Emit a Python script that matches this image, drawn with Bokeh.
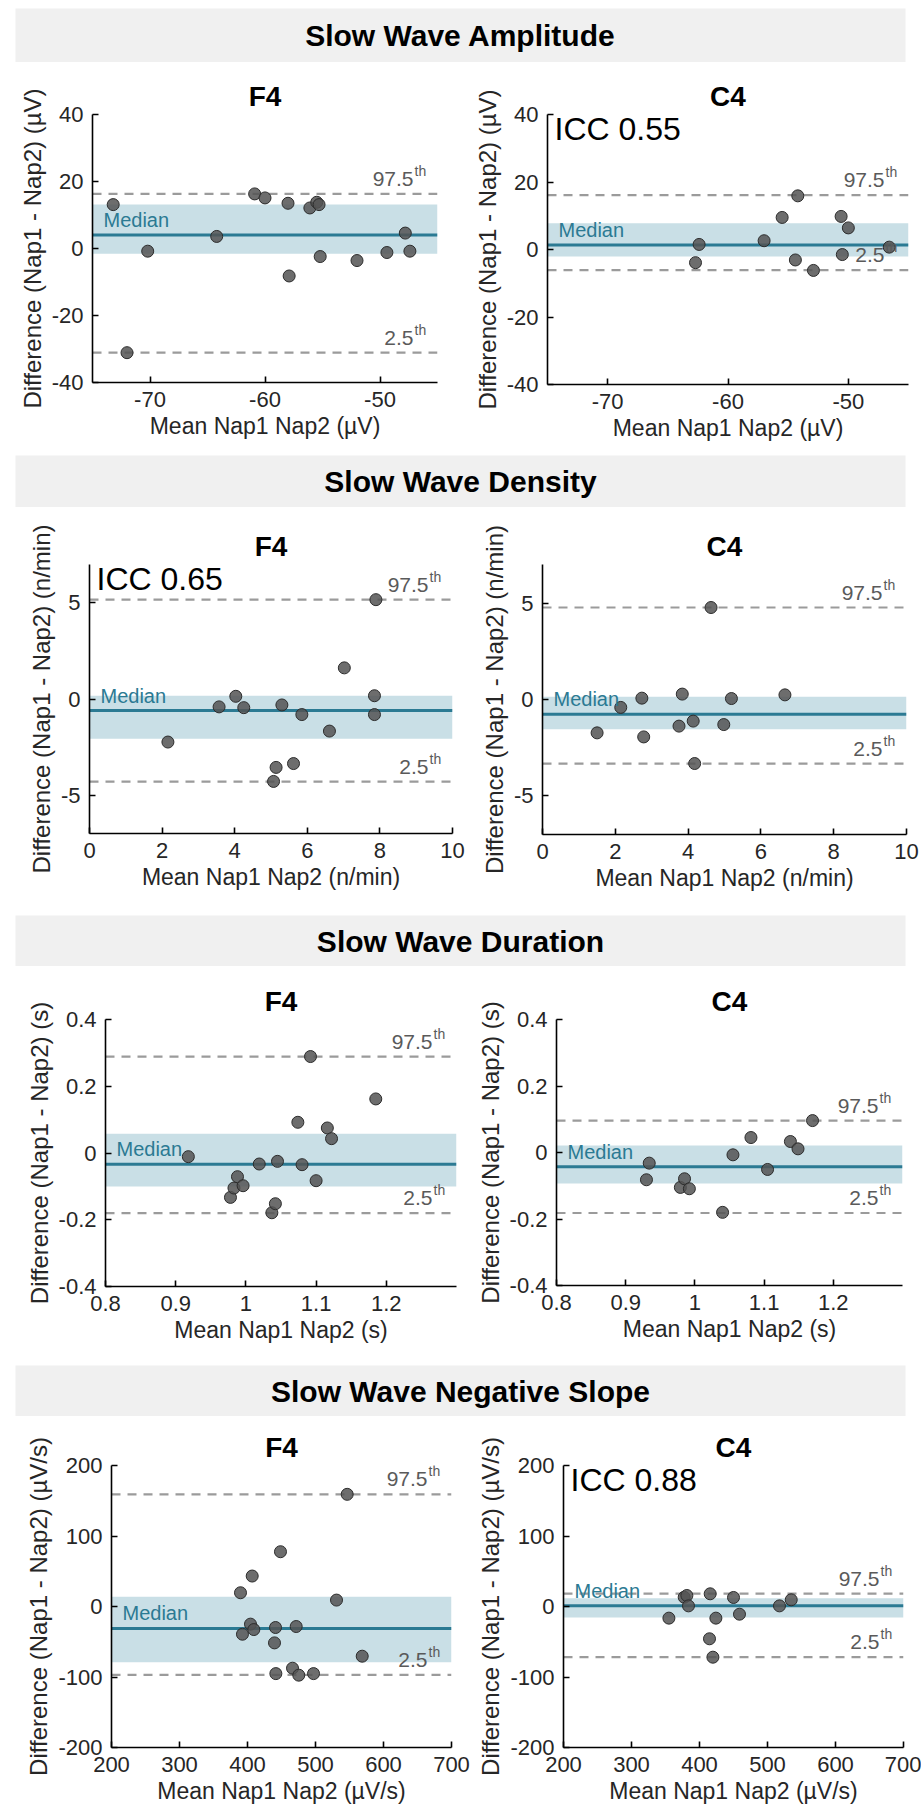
from bokeh.plotting import figure
from bokeh.layouts import column, row
from bokeh.models import Span, BoxAnnotation, Label, FixedTicker, CustomJSTickFormatter, Range1d
from bokeh.embed import file_html
from bokeh.resources import INLINE

FONT = "Liberation Sans"

# ---------------- data ----------------
section_titles = ["Slow Wave Amplitude", "Slow Wave Density", "Slow Wave Duration", "Slow Wave Negative Slope"]
channel_titles = ["F4", "C4"]

# Amplitude
amp_f4_mean = [-73.2, -72.0, -70.2, -64.2, -60.9, -60.0, -58.0, -57.9, -56.1, -55.5, -55.3, -55.2, -52.0, -49.4, -47.8, -47.4]
amp_f4_diff = [13.1, -31.1, -0.8, 3.6, 16.3, 15.1, 13.5, -8.2, 12.1, 13.8, 13.1, -2.4, -3.6, -1.2, 4.6, -0.8]
amp_f4_stats = {"p975": 16.3, "p25": -31.1, "median": 4.0, "band_lo": -1.6, "band_hi": 13.1}
amp_c4_mean = [-62.7, -62.4, -57.0, -55.5, -54.4, -54.2, -52.9, -50.6, -50.0, -50.5, -46.6]
amp_c4_diff = [-3.9, 1.5, 2.6, 9.5, -3.1, 15.9, -6.2, 9.8, 6.4, -1.5, 0.7]
amp_c4_stats = {"p975": 16.1, "p25": -6.1, "median": 1.3, "band_lo": -2.1, "band_hi": 7.8}

# Density
den_f4_mean = [2.16, 3.57, 4.03, 4.25, 5.07, 5.14, 5.30, 5.62, 5.85, 6.61, 7.02, 7.85, 7.85, 7.89]
den_f4_diff = [-2.24, -0.41, 0.14, -0.45, -4.29, -3.56, -0.31, -3.36, -0.81, -1.67, 1.62, 0.17, -0.81, 5.17]
den_f4_stats = {"p975": 5.17, "p25": -4.30, "median": -0.60, "band_lo": -2.07, "band_hi": 0.17}
den_c4_mean = [1.50, 2.15, 2.73, 2.78, 3.75, 3.84, 4.14, 4.18, 4.63, 4.98, 5.19, 6.66]
den_c4_diff = [-1.73, -0.41, 0.07, -1.94, -1.38, 0.28, -1.12, -3.32, 4.77, -1.30, 0.05, 0.24]
den_c4_stats = {"p975": 4.77, "p25": -3.32, "median": -0.76, "band_lo": -1.54, "band_hi": 0.14}

# Duration
dur_f4_mean = [0.918, 0.978, 0.983, 0.988, 0.996, 1.019, 1.037, 1.042, 1.045, 1.074, 1.080, 1.092, 1.100, 1.116, 1.122, 1.185]
dur_f4_diff = [-0.011, -0.133, -0.105, -0.071, -0.098, -0.033, -0.179, -0.152, -0.025, 0.092, -0.035, 0.289, -0.083, 0.075, 0.043, 0.162]
dur_f4_stats = {"p975": 0.289, "p25": -0.180, "median": -0.034, "band_lo": -0.100, "band_hi": 0.058}
dur_c4_mean = [0.930, 0.934, 0.979, 0.985, 0.992, 1.040, 1.055, 1.081, 1.105, 1.138, 1.149, 1.170]
dur_c4_diff = [-0.082, -0.032, -0.105, -0.079, -0.109, -0.180, -0.007, 0.045, -0.051, 0.033, 0.011, 0.096]
dur_c4_stats = {"p975": 0.096, "p25": -0.182, "median": -0.043, "band_lo": -0.093, "band_hi": 0.021}

# Negative slope
slo_f4_mean = [389.7, 392.6, 404.4, 406.9, 409.3, 439.7, 441.2, 441.7, 448.5, 466.2, 471.6, 475.4, 497.1, 530.9, 546.6, 568.7]
slo_f4_diff = [19.5, -39.3, -25.0, 43.2, -32.7, -51.6, -29.8, -95.2, 77.7, -87.5, -28.4, -97.4, -95.2, 9.1, 159.1, -70.5]
slo_f4_stats = {"p975": 159.0, "p25": -97.0, "median": -31.2, "band_lo": -79.0, "band_hi": 13.8}
slo_c4_mean = [355.0, 377.5, 381.4, 383.8, 414.7, 415.7, 419.7, 424.1, 450.0, 458.8, 517.6, 534.9]
slo_c4_diff = [-16.5, 13.2, 15.6, 0.9, -45.8, 18.0, -71.9, -16.5, 12.8, -10.9, 0.9, 9.5]
slo_c4_stats = {"p975": 18.4, "p25": -71.9, "median": 0.9, "band_lo": -15.6, "band_hi": 11.8}

# axes ranges / ticks / labels
amp_xrange, amp_yrange = (-75, -45), (-40, 40)
amp_xticks, amp_yticks = [-70, -60, -50], [-40, -20, 0, 20, 40]
den_xrange, den_yrange = (0, 10), (-7, 7)
den_xticks, den_yticks = [0, 2, 4, 6, 8, 10], [-5, 0, 5]
dur_xrange, dur_yrange = (0.8, 1.3), (-0.4, 0.4)
dur_xticks, dur_yticks = [0.8, 0.9, 1.0, 1.1, 1.2], [-0.4, -0.2, 0, 0.2, 0.4]
slo_xrange, slo_yrange = (200, 700), (-200, 200)
slo_xticks, slo_yticks = [200, 300, 400, 500, 600, 700], [-200, -100, 0, 100, 200]

amp_xlabel, amp_ylabel = "Mean Nap1 Nap2 (µV)", "Difference (Nap1 - Nap2) (µV)"
den_xlabel, den_ylabel = "Mean Nap1 Nap2 (n/min)", "Difference (Nap1 - Nap2) (n/min)"
dur_xlabel, dur_ylabel = "Mean Nap1 Nap2 (s)", "Difference (Nap1 - Nap2) (s)"
slo_xlabel, slo_ylabel = "Mean Nap1 Nap2 (µV/s)", "Difference (Nap1 - Nap2) (µV/s)"

icc_texts = {("amp", "C4"): "ICC 0.55", ("den", "F4"): "ICC 0.65", ("slo", "C4"): "ICC 0.88"}

# ---------------- styling ----------------
BAND = "#c9dfe6"
MEDIAN = "#2b7a93"
DASH = "#9b9b9b"
PT_FILL = "#545454"
PT_LINE = "#2c2c2c"
TXT = "#262626"
GRAYTXT = "#5a5a5a"

# geometry: (left border, frame w, right border, top border, frame h, bottom border)
geoms = {
    ("amp", "F4"): (92, 345, 33, 52, 268, 73),
    ("amp", "C4"): (73, 361, 17, 50, 270, 73),
    ("den", "F4"): (89, 363, 18, 57, 269, 82),
    ("den", "C4"): (72, 364, 15, 57, 270, 81),
    ("dur", "F4"): (105, 351, 14, 52, 267, 80),
    ("dur", "C4"): (86, 346, 19, 53, 266, 80),
    ("slo", "F4"): (111, 340, 19, 49, 282, 67),
    ("slo", "C4"): (93, 340, 18, 48, 282, 68),
}
# header geometry: (left, width, right, top, height)
header_geoms = [(7, 890, 24, 8, 54), (15, 890, 16, 0, 52), (15, 890, 16, 0, 51), (15, 890, 16, 0, 51)]

fmt_code = "return String(Math.round(tick*1000)/1000);"


def make_header(text, g):
    l, w, r, t, h = g
    p = figure(frame_width=w, frame_height=h, min_border_left=l, min_border_right=r,
               min_border_top=t, min_border_bottom=0, x_range=Range1d(0, 1), y_range=Range1d(0, 1),
               toolbar_location=None, output_backend="svg",
               x_axis_location=None, y_axis_location=None)
    p.background_fill_color = "#f0f0f0"
    p.border_fill_color = "white"
    p.outline_line_color = None
    p.xgrid.visible = False
    p.ygrid.visible = False
    p.add_layout(Label(x=0.5, y=0.5, text=text, text_align="center", text_baseline="middle",
                       text_font=FONT, text_font_size="30px", text_font_style="bold", text_color="black"))
    return p


def make_panel(key, title, xs, ys, stats, xr, yr, xt, yt, xl, yl):
    fl, fw, fr, ft, fh, fb = geoms[key]
    x0, x1 = xr
    y0, y1 = yr
    dx = (x1 - x0) / fw
    dy = (y1 - y0) / fh
    p = figure(frame_width=fw, frame_height=fh, min_border_left=fl, min_border_right=fr,
               min_border_top=ft, min_border_bottom=fb, x_range=Range1d(x0, x1), y_range=Range1d(y0, y1),
               toolbar_location=None, output_backend="svg", title=title)
    p.title.align = "center"
    p.title.text_font = FONT
    p.title.text_font_size = "28px"
    p.title.text_font_style = "bold"
    p.title.text_color = "black"
    p.title.standoff = 5
    p.outline_line_color = None
    p.xgrid.visible = False
    p.ygrid.visible = False
    p.background_fill_color = "white"
    p.border_fill_color = "white"

    for ax, ticks, lab, lsize in ((p.xaxis[0], xt, xl, "23px"), (p.yaxis[0], yt, yl, "24px")):
        ax.ticker = FixedTicker(ticks=ticks)
        ax.formatter = CustomJSTickFormatter(code=fmt_code)
        ax.axis_label = lab
        ax.axis_line_color = "black"
        ax.axis_line_width = 1.6
        ax.major_tick_line_color = "black"
        ax.major_tick_line_width = 1.6
        ax.major_tick_in = 6
        ax.major_tick_out = 0
        ax.minor_tick_line_color = None
        ax.major_label_text_font = FONT
        ax.major_label_text_font_size = "22px"
        ax.major_label_text_color = TXT
        ax.major_label_standoff = 9
        ax.axis_label_text_font = FONT
        ax.axis_label_text_font_size = lsize
        ax.axis_label_text_font_style = "normal"
        ax.axis_label_text_color = TXT
        ax.axis_label_standoff = 3

    p.add_layout(BoxAnnotation(bottom=stats["band_lo"], top=stats["band_hi"], fill_color=BAND,
                               fill_alpha=1.0, line_color=None, level="underlay"))
    for loc in (stats["p975"], stats["p25"]):
        p.add_layout(Span(location=loc, dimension="width", line_color=DASH, line_width=2.2,
                          line_dash="9 7", level="underlay"))
    p.add_layout(Span(location=stats["median"], dimension="width", line_color=MEDIAN,
                      line_width=3, level="underlay"))

    p.scatter(x=xs, y=ys, size=12, marker="circle", fill_color=PT_FILL, fill_alpha=0.85,
              line_color=PT_LINE, line_width=1)

    # texts (y positions are the vertical centres of the glyphs)
    p.add_layout(Label(x=x0 + 11 * dx, y=stats["median"] + 15 * dy, text="Median",
                       text_font=FONT, text_font_size="20px", text_color=MEDIAN,
                       text_align="left", text_baseline="middle"))
    xr_txt = x1 - 24 * dx
    for loc, num in ((stats["p975"], "97.5"), (stats["p25"], "2.5")):
        p.add_layout(Label(x=xr_txt, y=loc + 15 * dy, text=num, text_font=FONT, text_font_size="21px",
                           text_color=GRAYTXT, text_align="right", text_baseline="middle"))
        p.add_layout(Label(x=xr_txt + 1 * dx, y=loc + 23 * dy, text="th", text_font=FONT,
                           text_font_size="14px", text_color=GRAYTXT, text_align="left",
                           text_baseline="middle"))
    if key in icc_texts:
        p.add_layout(Label(x=x0 + 7 * dx, y=y1 - 14 * dy, text=icc_texts[key], text_font=FONT,
                           text_font_size="32px", text_color="black", text_align="left",
                           text_baseline="middle"))
    return p


sections = [
    ("amp", amp_f4_mean, amp_f4_diff, amp_f4_stats, amp_c4_mean, amp_c4_diff, amp_c4_stats,
     amp_xrange, amp_yrange, amp_xticks, amp_yticks, amp_xlabel, amp_ylabel),
    ("den", den_f4_mean, den_f4_diff, den_f4_stats, den_c4_mean, den_c4_diff, den_c4_stats,
     den_xrange, den_yrange, den_xticks, den_yticks, den_xlabel, den_ylabel),
    ("dur", dur_f4_mean, dur_f4_diff, dur_f4_stats, dur_c4_mean, dur_c4_diff, dur_c4_stats,
     dur_xrange, dur_yrange, dur_xticks, dur_yticks, dur_xlabel, dur_ylabel),
    ("slo", slo_f4_mean, slo_f4_diff, slo_f4_stats, slo_c4_mean, slo_c4_diff, slo_c4_stats,
     slo_xrange, slo_yrange, slo_xticks, slo_yticks, slo_xlabel, slo_ylabel),
]

children = []
for i, (k, fx, fy, fs, cx, cy, cs, xr, yr, xt, yt, xl, yl) in enumerate(sections):
    children.append(make_header(section_titles[i], header_geoms[i]))
    left = make_panel((k, "F4"), channel_titles[0], fx, fy, fs, xr, yr, xt, yt, xl, yl)
    right = make_panel((k, "C4"), channel_titles[1], cx, cy, cs, xr, yr, xt, yt, xl, yl)
    children.append(row(left, right, spacing=0))

layout = column(*children, spacing=0)

html = file_html(layout, INLINE, title="Bland-Altman slow wave")
html = html.replace("<head>", "<head><style>html,body{margin:0;padding:0;}</style>", 1)
open("out.html", "w").write(html)
